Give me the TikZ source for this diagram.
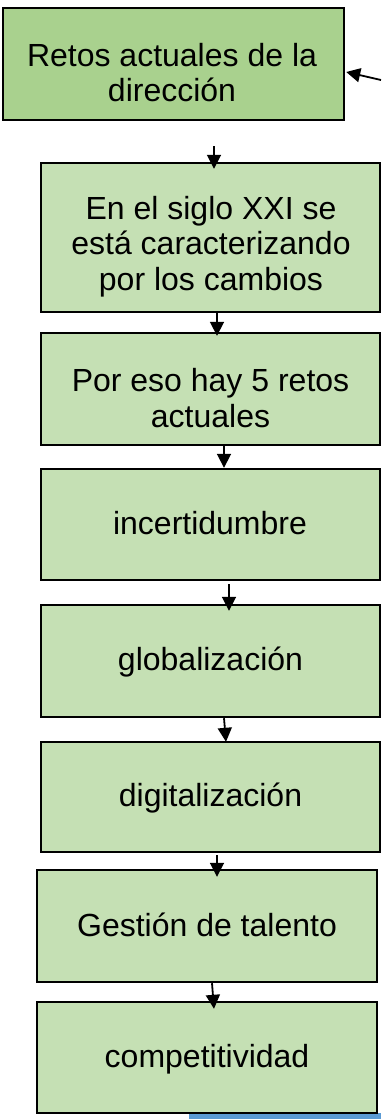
\documentclass[tikz,border=0pt]{standalone}
\usepackage{fontspec}
\setmainfont{Liberation Sans}
\usetikzlibrary{arrows.meta}
\definecolor{gdark}{HTML}{A9D18E}
\definecolor{glight}{HTML}{C5E0B4}
\definecolor{bbar}{HTML}{5B9BD5}
\begin{document}
\begin{tikzpicture}[x=1pt,y=1pt,
  box/.style={draw=black, line width=2.4pt, minimum width=339pt, minimum height=112pt, inner sep=0pt, fill=glight},
  txt/.style={font=\fontsize{32}{35.5}\selectfont, align=center, inner sep=0pt, anchor=base},
  arr/.style={line width=1.8pt, -{Triangle[length=14pt,width=14pt]}}]
\useasboundingbox (0,0) rectangle (381,-1119);
\fill[bbar] (189,-1113) rectangle (381,-1119);
\node[box, fill=gdark, minimum width=341pt] (b1) at (173.5,-64) {};
\node[box, minimum height=149pt] (b2) at (210.5,-237.5) {};
\node[box] (b3) at (210.5,-389) {};
\node[box, minimum height=111pt] (b4) at (210.5,-524.5) {};
\node[box] (b5) at (210.5,-661) {};
\node[box, minimum height=110pt] (b6) at (210.5,-797) {};
\node[box, minimum width=340pt] (b7) at (207,-926) {};
\node[box, minimum width=340pt, minimum height=111pt] (b8) at (207,-1057.5) {};
\node[txt] (t1) at (172,-101.7) {Retos actuales de la\\dirección};
\node[txt] (t2) at (211,-290) {En el siglo XXI se\\está caracterizando\\por los cambios};
\node[txt] (t3) at (210.5,-427) {Por eso hay 5 retos\\actuales};
\node[txt] (t4) at (210,-534) {incertidumbre};
\node[txt] (t5) at (210.5,-670) {globalización};
\node[txt] (t6) at (210.5,-806) {digitalización};
\node[txt] (t7) at (207,-936) {Gestión de talento};
\node[txt] (t8) at (207,-1067.7) {competitividad};
\coordinate (e0) at (381,-80);
\draw[arr] (e0) -- ([xshift=1pt,yshift=-8pt]b1.east);
\coordinate (s1) at (214,-146);
\draw[arr] (s1) -- ([xshift=3.5pt,yshift=-7pt]b2.north);
\draw[arr] ([xshift=6.5pt]b2.south) -- ([xshift=6.5pt,yshift=-4pt]b3.north);
\draw[arr] ([xshift=13.5pt]b3.south) -- ([xshift=13.5pt]b4.north);
\draw[arr] ([xshift=18.5pt,yshift=-3pt]b4.south) -- ([xshift=18.5pt,yshift=-7pt]b5.north);
\draw[arr] ([xshift=13.5pt]b5.south) -- ([xshift=15.5pt,yshift=-1pt]b6.north);
\draw[arr] ([xshift=6.5pt,yshift=-2pt]b6.south) -- ([xshift=10pt,yshift=-8pt]b7.north);
\draw[arr] ([xshift=5pt]b7.south) -- ([xshift=7pt,yshift=-8pt]b8.north);
\end{tikzpicture}
\end{document}
